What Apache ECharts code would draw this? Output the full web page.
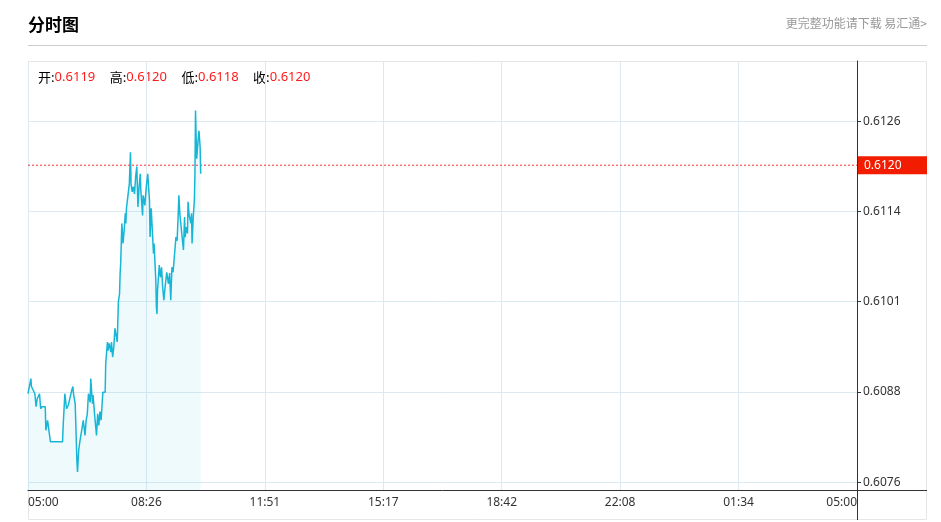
<!DOCTYPE html>
<html>
<head>
<meta charset="utf-8">
<script src="https://cdn.jsdelivr.net/npm/echarts@6/dist/echarts.min.js"></script>
<style>
html,body{margin:0;padding:0;background:#fff;}
#chart{width:941px;height:522px;}
</style>
</head>
<body>
<div id="chart"></div>
<script>
// ---- data ----
const timeLabels = ['05:00','08:26','11:51','15:17','18:42','22:08','01:34','05:00'];
const priceTicks = [0.60759, 0.608845, 0.6101, 0.611355, 0.61261];
const priceTickLabels = ['0.6076','0.6088','0.6101','0.6114','0.6126'];
const ohlcNames = ['开','高','低','收'];
const ohlcValues = ['0.6119','0.6120','0.6118','0.6120'];
const lastPrice = 0.6120;
const lastPriceLabel = '0.6120';
// minutes after 05:00
const minutes = [0,2,5,6,9,12,14,16,18,20,22,24,30,31,34,37,39,60,61,64,66,67,70,73,76,78,79,82,85,86,88,90,93,96,99,101,103,105,108,109,112,113,116,119,121,123,125,127,130,134,135,138,139,141,144,145,147,149,151,154,155,157,159,160,161,163,165,167,169,170,171,174,176,178,179,181,183,185,187,189,191,193,195,196,199,200,203,204,206,208,211,212,214,217,218,219,222,223,224,225,228,230,232,234,236,238,241,243,244,246,248,250,252,255,257,259,261,262,264,267,270,272,273,275,277,278,280,283,284,285,287,289,290,291,293,295,297,299,300];
const prices = [0.60882,0.60882,0.60903,0.60892,0.60894,0.60882,0.60864,0.60875,0.60875,0.60882,0.60861,0.60864,0.60864,0.60831,0.60845,0.60845,0.60815,0.60815,0.60836,0.60882,0.60868,0.60861,0.60866,0.60864,0.60887,0.60892,0.60882,0.60868,0.60787,0.60773,0.60803,0.60815,0.60815,0.60845,0.60824,0.60845,0.60854,0.60882,0.60870,0.60903,0.60868,0.60880,0.60850,0.60824,0.60854,0.60838,0.60857,0.60845,0.60884,0.60884,0.60924,0.60954,0.60942,0.60952,0.60940,0.60954,0.60933,0.60947,0.60973,0.60973,0.60954,0.61010,0.61021,0.61049,0.61063,0.61119,0.61091,0.61109,0.61133,0.61119,0.61140,0.61140,0.61174,0.61218,0.61174,0.61163,0.61170,0.61160,0.61184,0.61198,0.61142,0.61170,0.61188,0.61165,0.61130,0.61158,0.61144,0.61156,0.61174,0.61188,0.61151,0.61100,0.61140,0.61140,0.61077,0.61091,0.61040,0.61003,0.60993,0.61026,0.61061,0.61044,0.61058,0.61030,0.61012,0.61030,0.61051,0.61049,0.61035,0.61050,0.61012,0.61058,0.61051,0.61051,0.61100,0.61095,0.61133,0.61158,0.61130,0.61130,0.61082,0.61128,0.61100,0.61114,0.61105,0.61149,0.61130,0.61119,0.61133,0.61091,0.61128,0.61151,0.61188,0.61276,0.61209,0.61230,0.61248,0.61225,0.61188];
const dayMinutes = 1440;
const yMin = 0.60748, yMax = 0.61345;

// ---- chart ----
const FONT = '"Noto Sans", "Noto Sans CJK SC", sans-serif';
const CJK = '"Noto Sans CJK SC", "Noto Sans", sans-serif';
const step = dayMinutes / (timeLabels.length - 1);
const seriesData = minutes.map((m, i) => [m, prices[i]]);

const graphics = [
  {type:'text', left:28, top:16, style:{text:'分时图', font:'bold 17px ' + CJK, fill:'#000'}},
  {type:'text', right:14, top:17, style:{text:'更完整功能请下载 易汇通>', font:'12px ' + CJK, fill:'#999'}},
  {type:'line', shape:{x1:28, y1:45.5, x2:927, y2:45.5}, style:{stroke:'#cccccc', lineWidth:1}, silent:true},
  {type:'rect', shape:{x:28.5, y:61.5, width:898, height:458}, style:{stroke:'#e6e6e6', fill:'none', lineWidth:1}, silent:true, z:-1},
  {type:'line', shape:{x1:857.5, y1:490, x2:857.5, y2:520}, style:{stroke:'#333', lineWidth:1}, silent:true},
  {type:'line', shape:{x1:857, y1:490.5, x2:927, y2:490.5}, style:{stroke:'#333', lineWidth:1}, silent:true}
];
ohlcNames.forEach((n, i) => {
  graphics.push({
    type:'text', left: 38 + i * 71.7, top: 71,
    style:{
      text: '{k|' + n + ':}{v|' + ohlcValues[i] + '}',
      rich:{
        k:{font:'13px ' + CJK, fill:'#000'},
        v:{font:'13px ' + FONT, fill:'#ff1a1a'}
      }
    }
  });
});

const chart = echarts.init(document.getElementById('chart'), null, {renderer:'canvas'});
chart.setOption({
  animation:false,
  backgroundColor:'#fff',
  grid:{left:28, right:84, top:61, bottom:32, containLabel:false},
  xAxis:{
    type:'value', min:0, max:dayMinutes, interval:step,
    axisLine:{show:true, onZero:false, lineStyle:{color:'#333', width:1}},
    axisTick:{show:false},
    splitLine:{show:true, lineStyle:{color:'#dde9f1', width:1}},
    axisLabel:{
      color:'#333', fontSize:12, fontFamily:FONT, margin:7,
      showMinLabel:true, showMaxLabel:true,
      alignMinLabel:'left', alignMaxLabel:'right',
      formatter:(v) => timeLabels[Math.round(v / step)] || ''
    }
  },
  yAxis:{
    type:'value', position:'right', min:yMin, max:yMax,
    axisLine:{show:true, onZero:false, lineStyle:{color:'#333', width:1}},
    axisTick:{show:true, length:4, inside:false, customValues:priceTicks, lineStyle:{color:'#333'}},
    splitLine:{show:true, lineStyle:{color:'#dde9f1', width:1}},
    axisLabel:{
      customValues:priceTicks, color:'#333', fontSize:12, fontFamily:FONT, margin:6,
      formatter:(v) => {
        let best = 0;
        priceTicks.forEach((t, i) => { if (Math.abs(t - v) < Math.abs(priceTicks[best] - v)) best = i; });
        return priceTickLabels[best];
      }
    }
  },
  graphic: graphics,
  series:[{
    type:'line',
    data: seriesData,
    showSymbol:false,
    symbol:'none',
    silent:true,
    z:3,
    lineStyle:{color:'#17b6d6', width:1.5},
    areaStyle:{color:'rgba(26,182,214,0.1)'}
  },{
    type:'line',
    data:[[0, lastPrice], [dayMinutes, lastPrice]],
    showSymbol:false,
    symbol:'none',
    silent:true,
    z:2,
    itemStyle:{color:'#ff3030'},
    lineStyle:{color:'#ff3030', type:[2,2], width:1},
    endLabel:{
      show:true, distance:1,
      formatter:() => lastPriceLabel,
      backgroundColor:'#f21c00', color:'#fff',
      fontSize:12, fontFamily:FONT,
      width:57, lineHeight:13, padding:[3,6,2,6]
    }
  }]
});
</script>
</body>
</html>
